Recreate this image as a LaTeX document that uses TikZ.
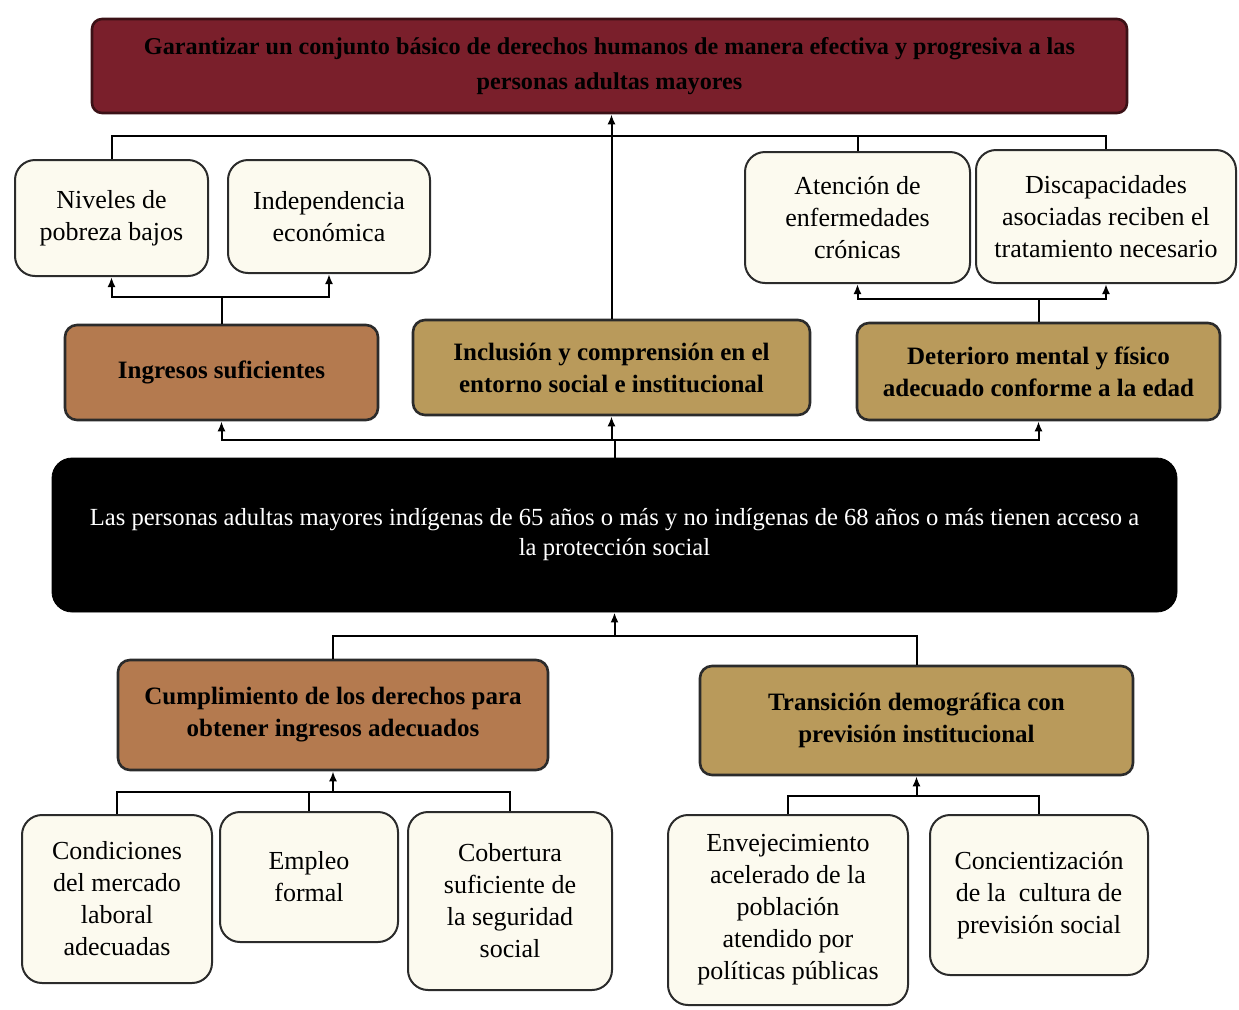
\documentclass[tikz,border=0pt]{standalone}
\usepackage{fontspec}
\setmainfont{Liberation Serif}
\usetikzlibrary{positioning,arrows.meta}
\definecolor{wine}{HTML}{7A1F2B}
\definecolor{wineline}{HTML}{3B1116}
\definecolor{cream}{HTML}{FCFAEF}
\definecolor{rust}{HTML}{B47A4F}
\definecolor{ochre}{HTML}{B99A5B}
\definecolor{edge}{HTML}{2B2B2B}

\begin{document}
\begin{tikzpicture}[x=0.5pt,y=-0.5pt,
  lb/.style={draw=edge,line width=1pt,rounded corners=10pt,fill=cream,align=center,inner sep=0pt,font=\fontsize{13}{16}\selectfont},
  cb/.style={draw=edge,line width=1.3pt,rounded corners=6pt,align=center,inner sep=0pt,text=black,font=\fontsize{12.5}{16}\selectfont\bfseries},
  wh/.style 2 args={minimum width=#1,minimum height=#2},
  arr/.style={line width=1pt,-{Latex[length=5pt,width=4pt]}},
  ln/.style={line width=1pt}]
\useasboundingbox (0,0) rectangle (1239,1009);
% goal
\node[cb,fill=wine,draw=wineline,rounded corners=5pt,wh={517.5pt}{47pt},font=\fontsize{12.1}{17.5}\selectfont\bfseries] (top) at (609.5,66) {Garantizar un conjunto básico de derechos humanos de manera efectiva y progresiva a las\\personas adultas mayores};
% upper results
\node[lb,wh={96.5pt}{58pt}] (niv) at (111.5,218) {Niveles de\\pobreza bajos};
\node[lb,wh={101pt}{56.5pt}] (ind) at (329,216.5) {Independencia\\económica};
\node[lb,wh={112.5pt}{65.5pt}] (ate) at (857.5,217.5) {Atención de\\enfermedades\\crónicas};
\node[lb,wh={130pt}{66.5pt}] (dis) at (1106,216.5) {Discapacidades\\asociadas reciben el\\tratamiento necesario};
% middle results
\node[cb,fill=rust,wh={156.5pt}{47.5pt}] (ing) at (221.5,372.5) {Ingresos suficientes};
\node[cb,fill=ochre,wh={198.5pt}{47.5pt}] (inc) at (611.5,367.5) {Inclusión y comprensión en el\\entorno social e institucional};
\node[cb,fill=ochre,wh={181.5pt}{48.5pt}] (det) at (1038.5,371.5) {Deterioro mental y físico\\adecuado conforme a la edad};
% central problem
\node[draw=black,fill=black,text=white,rounded corners=10pt,align=center,inner sep=0pt,wh={562.5pt}{77pt},font=\fontsize{12.3}{15}\selectfont] (blk) at (614.5,535) {Las personas adultas mayores indígenas de 65 años o más y no indígenas de 68 años o más tienen acceso a\\la protección social};
% means
\node[cb,fill=rust,wh={215pt}{55pt}] (cum) at (333,715) {Cumplimiento de los derechos para\\obtener ingresos adecuados};
\node[cb,fill=ochre,wh={216.5pt}{54.5pt}] (tra) at (916.5,720.5) {Transición demográfica con\\previsión institucional};
\node[lb,wh={95pt}{84pt}] (con) at (117,899) {Condiciones\\del mercado\\laboral\\adecuadas};
\node[lb,wh={89pt}{65pt}] (emp) at (309,877) {Empleo\\formal};
\node[lb,wh={102pt}{89pt}] (cob) at (510,901) {Cobertura\\suficiente de\\la seguridad\\social};
\node[lb,wh={120pt}{95pt}] (env) at (788,910) {Envejecimiento\\acelerado de la\\población\\atendido por\\políticas públicas};
\node[lb,wh={109pt}{80pt}] (cnc) at (1039,895) {Concientización\\de la~ cultura de\\previsión social};
% connectors
\draw[arr] (inc.north) -- (inc.north |- top.south);
\draw[ln] (niv.north) -- ++(0,-23) coordinate (tj) -| (dis.north);
\draw[ln] (tj -| ate.north) -- (ate.north);
\draw[arr] (ing.north) -- ++(0,-27) coordinate (ij) -| (niv.south);
\draw[arr] (ij) -| (ind.south);
\draw[arr] (det.north) -- ++(0,-23) coordinate (dj) -| (ate.south);
\draw[arr] (dj) -| (dis.south);
\draw[ln] (blk.north) -- ++(0,-18) coordinate (bj);
\draw[arr] (bj) -| (ing.south);
\draw[arr] (bj) -| (det.south);
\draw[arr] (bj) -| (inc.south);
\draw[ln] (cum.north) -- ++(0,-23) coordinate (cj) -| (tra.north);
\draw[arr] (cj -| blk.south) -- (blk.south);
\draw[ln] (con.north) -- ++(0,-22) coordinate (kj) -| (cob.north);
\draw[ln] (kj -| emp.north) -- (emp.north);
\draw[arr] (kj -| cum.south) -- (cum.south);
\draw[ln] (env.north) -- ++(0,-18) coordinate (ej) -| (cnc.north);
\draw[arr] (ej -| tra.south) -- (tra.south);
\end{tikzpicture}
\end{document}
